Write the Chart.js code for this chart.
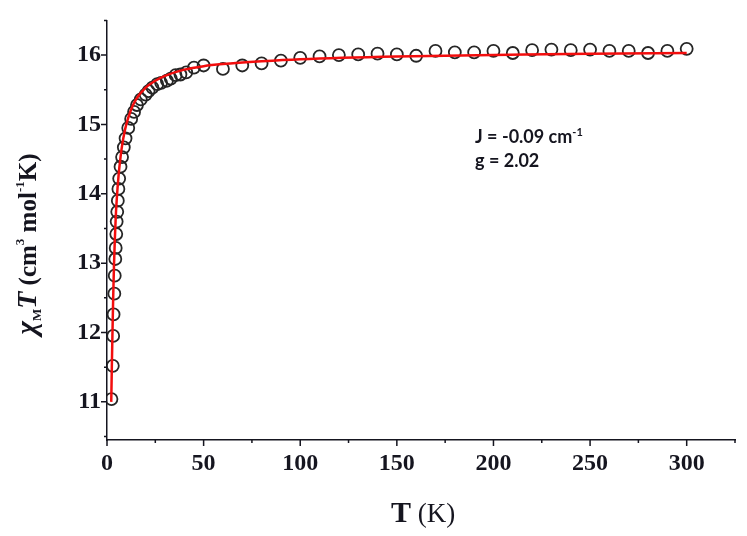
<!DOCTYPE html>
<html>
<head>
<meta charset="utf-8">
<script src="https://cdn.jsdelivr.net/npm/chart.js@4.4.1/dist/chart.umd.min.js"></script>
<style>
  html, body { margin: 0; padding: 0; background: #fff; }
  #wrap { width: 747px; height: 536px; position: relative; }
</style>
</head>
<body>
<div id="wrap"><canvas id="chiTChart"></canvas></div>
<script>
// measured points (open circles)
const tempK = [2.3, 3.0, 3.2, 3.4, 3.8, 4.0, 4.3, 4.5, 4.8, 5.0, 5.3, 5.6, 5.9, 6.3, 7.0, 7.8, 8.7, 9.6,
  11, 12.5, 14, 15.5, 17.5, 20, 21.5, 23.5, 26, 28, 31, 33, 35.5, 38, 41, 45, 50,
  60, 70, 80, 90, 100, 110, 120, 130, 140, 150, 160, 170, 180, 190, 200,
  210, 220, 230, 240, 250, 260, 270, 280, 290, 300];
const chiT = [11.04, 11.52, 11.95, 12.26, 12.56, 12.82, 13.06, 13.22, 13.42, 13.60, 13.74, 13.90, 14.07, 14.22, 14.39, 14.53, 14.67, 14.80,
  14.95, 15.08, 15.18, 15.28, 15.36, 15.43, 15.48, 15.53, 15.58, 15.60, 15.63, 15.66, 15.71, 15.72, 15.75, 15.82, 15.85,
  15.80, 15.85, 15.88, 15.92, 15.96, 15.98, 16.00, 16.01, 16.02, 16.01, 15.99, 16.06, 16.04, 16.04, 16.06,
  16.03, 16.07, 16.08, 16.07, 16.08, 16.06, 16.06, 16.03, 16.06, 16.09];

// fitted curve (red line)
const fitT = [2.2, 2.5, 2.8, 3.2, 3.6, 4, 4.5, 5, 6, 7, 8, 9, 10, 12, 15, 20, 25, 30, 40, 50, 60, 80, 100, 150, 200, 250, 300];
const fitChiT = [11.0, 11.5, 11.95, 12.5, 12.95, 13.3, 13.65, 13.9, 14.27, 14.53, 14.73, 14.88, 15.0, 15.18, 15.36, 15.53, 15.63, 15.7, 15.79, 15.84, 15.87, 15.91, 15.94, 15.98, 16.0, 16.02, 16.03];

// axis ticks
const xMajorTicks = [0, 50, 100, 150, 200, 250, 300];
const xMinorTicks = [25, 75, 125, 175, 225, 275, 325];
const yMajorTicks = [11, 12, 13, 14, 15, 16];
const yMinorTicks = [10.5, 11.5, 12.5, 13.5, 14.5, 15.5, 16.5];

const inkColor = '#15151f';
const serif = '"Liberation Serif", "DejaVu Serif", serif';

function drawRich(c, parts, x, y, angle, align) {
  c.save();
  c.translate(x, y);
  c.rotate(angle);
  let total = 0;
  parts.forEach(p => { c.font = p.font; p.w = c.measureText(p.t).width; total += p.w; });
  let xx = align === 'left' ? 0 : -total / 2;
  c.textBaseline = 'alphabetic';
  c.textAlign = 'left';
  parts.forEach(p => {
    c.font = p.font;
    c.fillText(p.t, xx, p.dy || 0);
    xx += p.w;
  });
  c.restore();
}

const extras = {
  id: 'extras',
  afterDraw(chart) {
    const c = chart.ctx;
    const xs = chart.scales.x, ys = chart.scales.y;
    c.save();
    c.strokeStyle = inkColor;
    c.lineWidth = 1.5;
    c.beginPath();
    xMajorTicks.forEach(v => { const p = xs.getPixelForValue(v); c.moveTo(p, xs.top); c.lineTo(p, xs.top + 6); });
    xMinorTicks.forEach(v => { const p = xs.getPixelForValue(v); c.moveTo(p, xs.top); c.lineTo(p, xs.top + 3); });
    yMajorTicks.forEach(v => { const p = ys.getPixelForValue(v); c.moveTo(ys.right, p); c.lineTo(ys.right - 6, p); });
    yMinorTicks.forEach(v => { const p = ys.getPixelForValue(v); c.moveTo(ys.right, p); c.lineTo(ys.right - 3, p); });
    c.stroke();

    c.fillStyle = inkColor;
    // y axis title
    drawRich(c, [
      { t: 'χ', font: 'italic bold 29px ' + serif },
      { t: 'M', font: 'bold 13px ' + serif, dy: 5 },
      { t: 'T', font: 'italic bold 28px ' + serif },
      { t: ' (cm', font: 'bold 25px ' + serif },
      { t: '3', font: 'bold 13px ' + serif, dy: -12 },
      { t: ' mol', font: 'bold 25px ' + serif },
      { t: '-1', font: 'bold 13px ' + serif, dy: -12 },
      { t: 'K)', font: 'bold 25px ' + serif }
    ], 36, 244, -Math.PI / 2, 'center');

    // x axis title
    drawRich(c, [
      { t: 'T', font: 'bold 30px ' + serif },
      { t: ' (K)', font: '27px ' + serif }
    ], 423, 522, 0, 'center');

    // fit parameters
    const sans = '"Lato", "Open Sans", sans-serif';
    drawRich(c, [
      { t: 'J = -0.09 cm', font: 'bold 18px ' + sans },
      { t: '-1', font: 'bold 11px ' + sans, dy: -7 }
    ], 475, 143, 0, 'left');
    drawRich(c, [
      { t: 'g = 2.02', font: 'bold 18px ' + sans }
    ], 475, 167, 0, 'left');
    c.restore();
  }
};

const chartCtx = document.getElementById('chiTChart').getContext('2d');
const chiTChart = new Chart(chartCtx, {
  type: 'scatter',
  data: {
    datasets: [
      {
        label: 'fit',
        data: fitT.map((t, i) => ({ x: t, y: fitChiT[i] })),
        showLine: true,
        borderColor: '#f20d0d',
        borderWidth: 2.5,
        pointRadius: 0,
        cubicInterpolationMode: 'monotone',
        fill: false
      },
      {
        label: 'exp',
        data: tempK.map((t, i) => ({ x: t, y: chiT[i] })),
        showLine: false,
        pointStyle: 'circle',
        pointRadius: 6,
        pointBorderWidth: 1.8,
        pointBorderColor: '#262626',
        pointBackgroundColor: 'rgba(0,0,0,0)'
      }
    ]
  },
  options: {
    responsive: true,
    maintainAspectRatio: false,
    animation: false,
    layout: { padding: { left: 0, top: 14, right: 12, bottom: 0 } },
    plugins: { legend: { display: false }, tooltip: { enabled: false }, title: { display: false } },
    scales: {
      x: {
        type: 'linear',
        min: 0,
        max: 325,
        afterBuildTicks: s => { s.ticks = xMajorTicks.map(v => ({ value: v })); },
        afterFit: s => { s.height = 96; },
        grid: { display: true, drawOnChartArea: false, drawTicks: false },
        border: { display: true, color: inkColor, width: 1.5 },
        ticks: {
          padding: 9,
          color: inkColor,
          font: { family: serif, size: 24, weight: 'bold' },
          maxRotation: 0
        }
      },
      y: {
        type: 'linear',
        min: 10.45,
        max: 16.5,
        afterBuildTicks: s => { s.ticks = yMajorTicks.map(v => ({ value: v })); },
        afterFit: s => { s.width = 107; },
        grid: { display: true, drawOnChartArea: false, drawTicks: false },
        border: { display: true, color: inkColor, width: 1.5 },
        ticks: {
          padding: 6,
          color: inkColor,
          font: { family: serif, size: 24, weight: 'bold' }
        }
      }
    }
  },
  plugins: [extras]
});
</script>
</body>
</html>
